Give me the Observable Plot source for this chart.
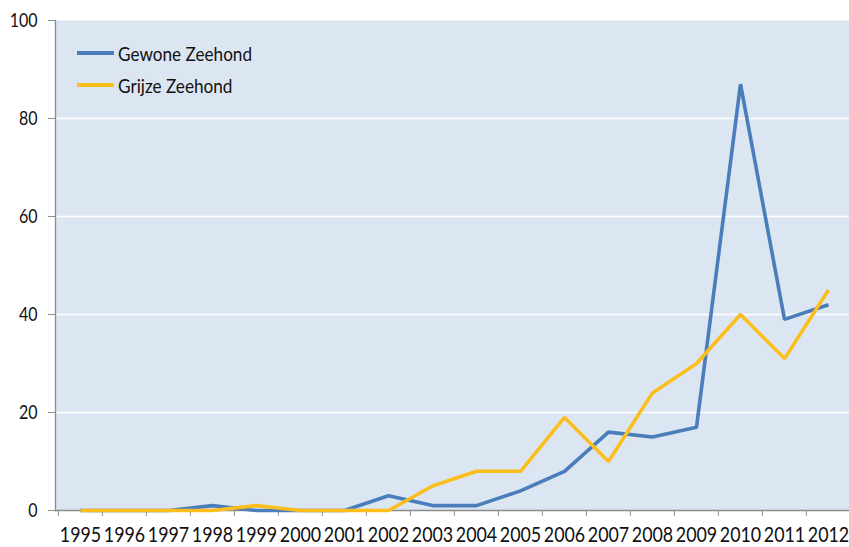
<!DOCTYPE html>
<html>
<head>
<meta charset="utf-8">
<script src="https://cdn.jsdelivr.net/npm/d3@7"></script>
<script src="https://cdn.jsdelivr.net/npm/@observablehq/plot@0.6"></script>
<style>
  html, body { margin: 0; padding: 0; background: #fff; }
  #wrap { position: relative; width: 849px; height: 547px; overflow: hidden; }
  #legend { position: absolute; left: 77px; top: 37px; font-family: Lato, "Open Sans", sans-serif; font-size: 19.5px; color: #111; }
  .item { display: flex; align-items: center; height: 32px; }
  .sw { width: 37px; height: 4px; margin-right: 4px; flex: none; }
  .lbl { display: inline-block; transform: scaleX(0.88); transform-origin: left center; white-space: nowrap; }
</style>
</head>
<body>
<div id="wrap"><div id="legend"></div></div>
<script>
const years = [1995,1996,1997,1998,1999,2000,2001,2002,2003,2004,2005,2006,2007,2008,2009,2010,2011,2012];
const gewone = [0,0,0,1,0,0,0,3,1,1,4,8,16,15,17,87,39,42];
const grijze = [0,0,0,0,1,0,0,0,5,8,8,19,10,24,30,40,31,45];
const seriesNames = ["Gewone Zeehond", "Grijze Zeehond"];
const seriesColors = ["#4A7EBB", "#FBBE1C"];
const yTicks = [0,20,40,60,80,100];
const gridTicks = [20,40,60,80];

const data = [];
years.forEach((y, i) => {
  data.push({year: y, value: gewone[i], series: seriesNames[0]});
  data.push({year: y, value: grijze[i], series: seriesNames[1]});
});

const xRange = [77, 830.5];
const step = (xRange[1] - xRange[0]) / (years.length - 1);

const chart = Plot.plot({
  width: 849, height: 547,
  marginLeft: 55, marginRight: 0, marginTop: 20, marginBottom: 37,
  style: {fontFamily: "Lato, 'Open Sans', sans-serif", color: "#111", background: "transparent"},
  x: {type: "point", domain: years, range: xRange, padding: 0},
  y: {domain: [0, 100]},
  color: {domain: seriesNames, range: seriesColors},
  marks: [
    Plot.frame({fill: "#DCE6F2", stroke: null}),
    Plot.gridY(gridTicks, {stroke: "#ffffff", strokeOpacity: 1, strokeWidth: 1.5}),
    Plot.ruleY([0], {stroke: "#8C8C8C", strokeWidth: 1.3}),
    Plot.frame({anchor: "left", stroke: "#8C8C8C", strokeWidth: 1.3}),
    Plot.axisY({ticks: yTicks, tickSize: 7, tickPadding: 11, stroke: "#8C8C8C", fontSize: 19.5, label: null, tickFormat: d => String(d)}),
    Plot.axisX({ticks: years, tickSize: 6, tickFormat: () => "", stroke: "#8C8C8C", dx: -step / 2, label: null}),
    Plot.axisX({ticks: years, tickSize: 0, tickPadding: 16, fontSize: 21.5, tickFormat: d => String(d), label: null}),
    Plot.line(data, {x: "year", y: "value", z: "series", stroke: "series", strokeWidth: 3.6, strokeLinejoin: "miter", strokeLinecap: "butt"})
  ]
});
document.getElementById("wrap").prepend(chart);

// condense tick label glyphs to mimic the narrow original typeface
function condense(sel, factor) {
  chart.querySelectorAll(sel).forEach(t => {
    const tr = t.getAttribute("transform");
    if (tr && tr.includes("translate")) {
      t.setAttribute("transform", tr + ` scale(${factor},1)`);
    } else {
      const len = t.getComputedTextLength();
      if (len > 0) {
        t.setAttribute("textLength", (len * factor).toFixed(2));
        t.setAttribute("lengthAdjust", "spacingAndGlyphs");
      }
    }
  });
}
condense("g[aria-label='x-axis tick label'] text", 0.83);
condense("g[aria-label='y-axis tick label'] text", 0.82);

const legend = document.getElementById("legend");
seriesNames.forEach((name, i) => {
  const item = document.createElement("div");
  item.className = "item";
  const sw = document.createElement("div");
  sw.className = "sw";
  sw.style.background = seriesColors[i];
  const label = document.createElement("span");
  label.className = "lbl";
  label.textContent = name;
  item.appendChild(sw);
  item.appendChild(label);
  legend.appendChild(item);
});
</script>
</body>
</html>
